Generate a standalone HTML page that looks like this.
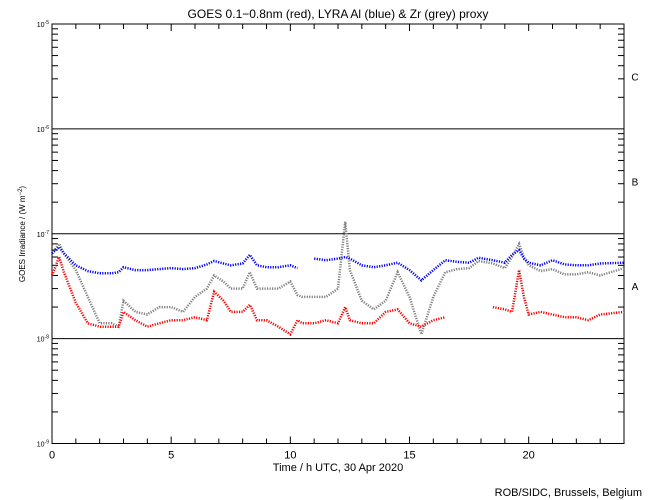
<!DOCTYPE html>
<html><head><meta charset="utf-8"><style>
body{margin:0;background:#fff}
svg{display:block;font-family:"Liberation Sans",sans-serif}
</style></head><body>
<svg id="chart" width="650" height="500" viewBox="0 0 650 500">
<rect width="650" height="500" fill="#fff"/>
<text x="338" y="18" font-size="12" text-anchor="middle">GOES 0.1−0.8nm (red), LYRA Al (blue) &amp; Zr (grey) proxy</text>
<text x="338" y="471" font-size="11" text-anchor="middle">Time / h UTC, 30 Apr 2020</text>
<text x="642" y="496" font-size="11" text-anchor="end">ROB/SIDC, Brussels, Belgium</text>
<text transform="translate(25,234) rotate(-90)" font-size="8" text-anchor="middle">GOES Irradiance / (W m<tspan baseline-shift="super" font-size="6">−2</tspan>)</text>
<g id="axes"></g>
<g id="series"></g>
</svg>
<script>
const hours=[0,0.3,0.5,1,1.5,2,2.5,2.8,3,3.5,4,4.5,5,5.5,6,6.5,6.8,7.2,7.5,8,8.3,8.6,9,9.5,10,10.3,10.5,11,11.5,12,12.3,12.5,13,13.5,14,14.5,15,15.5,16,16.5,17,17.5,17.9,18.5,19,19.3,19.6,19.8,20,20.5,21,21.5,22,22.5,23,24];
const blueAl=[6.5e-8,7.5e-8,6.5e-8,5e-8,4.4e-8,4.2e-8,4.2e-8,4.3e-8,4.8e-8,4.5e-8,4.5e-8,4.6e-8,4.7e-8,4.6e-8,4.7e-8,5.1e-8,5.5e-8,5.2e-8,5e-8,5.2e-8,6.3e-8,5e-8,4.8e-8,4.8e-8,5e-8,4.7e-8,null,5.8e-8,5.6e-8,5.8e-8,6e-8,5.8e-8,5e-8,4.8e-8,5e-8,5.3e-8,4.5e-8,3.6e-8,4.5e-8,5.6e-8,5.4e-8,5.3e-8,5.9e-8,5.6e-8,5.3e-8,6.3e-8,7e-8,5.8e-8,5.3e-8,5e-8,5.6e-8,5.1e-8,5e-8,5e-8,5.2e-8,5.3e-8];
const greyZr=[6.5e-8,8e-8,6.5e-8,4.5e-8,2.5e-8,1.4e-8,1.4e-8,1.3e-8,2.3e-8,1.8e-8,1.7e-8,2e-8,2e-8,1.8e-8,2.5e-8,3e-8,4e-8,3.5e-8,3e-8,3e-8,4.3e-8,3e-8,3e-8,3e-8,3.5e-8,2.6e-8,2.5e-8,2.5e-8,2.5e-8,3e-8,1.3e-7,4.5e-8,2.3e-8,1.9e-8,2.3e-8,4.3e-8,2.5e-8,1.1e-8,2.5e-8,4.3e-8,4.6e-8,4.7e-8,5.5e-8,5.2e-8,4.7e-8,6e-8,8e-8,6e-8,5e-8,4.4e-8,4.6e-8,4.1e-8,4.1e-8,4.3e-8,4e-8,4.7e-8];
const redGoes=[4e-8,6e-8,4.3e-8,2.2e-8,1.4e-8,1.3e-8,1.3e-8,1.3e-8,1.8e-8,1.5e-8,1.3e-8,1.4e-8,1.5e-8,1.5e-8,1.6e-8,1.5e-8,2.8e-8,2.3e-8,1.8e-8,1.8e-8,2.1e-8,1.5e-8,1.5e-8,1.3e-8,1.1e-8,1.5e-8,1.4e-8,1.4e-8,1.5e-8,1.4e-8,2e-8,1.5e-8,1.4e-8,1.4e-8,1.8e-8,1.9e-8,1.4e-8,1.3e-8,1.5e-8,1.6e-8,null,null,null,2e-8,1.9e-8,1.8e-8,4.5e-8,2.5e-8,1.7e-8,1.8e-8,1.7e-8,1.6e-8,1.6e-8,1.5e-8,1.7e-8,1.8e-8];
const xTickLabels=["0","5","10","15","20"];
const decadeExps=[-5,-6,-7,-8,-9];
const classLabels=["C","B","A"];

const X0=52,X1=624,Y0=24,Y1=443.5;
const xs=h=>X0+(X1-X0)*h/24;
const ys=v=>Y0+(-5-Math.log10(v))*(Y1-Y0)/4;
const NS="http://www.w3.org/2000/svg";
function mk(tag,attrs,parent){const e=document.createElementNS(NS,tag);for(const k in attrs)e.setAttribute(k,attrs[k]);parent.appendChild(e);return e;}
const ax=document.getElementById('axes');
const frame=mk('rect',{x:X0,y:Y0,width:X1-X0,height:Y1-Y0,fill:'none',stroke:'#000','stroke-width':1},ax);


decadeExps.forEach((e,i)=>{
  const y=ys(Math.pow(10,e));
  const l=mk('line',{x1:X0,x2:X1,y1:y,y2:y,stroke:'#000','stroke-width':1},ax);
  
  
  const t=mk('text',{x:X0-3,y:y+3,'font-size':7,'text-anchor':'end'},ax);
  
  
  t.innerHTML='10<tspan baseline-shift="super" font-size="5">'+e+'</tspan>';
  if(e>-9){for(let m=2;m<=9;m++){const yy=ys(m*Math.pow(10,e-1));
    mk('line',{x1:X0,x2:X0+6,y1:yy,y2:yy,stroke:'#000'},ax);
    mk('line',{x1:X1,x2:X1-6,y1:yy,y2:yy,stroke:'#000'},ax);}}
});
for(let h=0;h<=24;h++){const x=xs(h),L=h%5===0?7:5;
  mk('line',{x1:x,x2:x,y1:Y1,y2:Y1-L,stroke:'#000'},ax);
  mk('line',{x1:x,x2:x,y1:Y0,y2:Y0+L,stroke:'#000'},ax);}
xTickLabels.forEach(s=>{const t=mk('text',{x:xs(+s),y:Y1+15,'font-size':11,'text-anchor':'middle'},ax);t.textContent=s;
  
  });
classLabels.forEach((c,i)=>{const t=mk('text',{x:635,y:ys(Math.pow(10,-5.5-i))+4,'font-size':10,'text-anchor':'middle'},ax);t.textContent=c;
  
  });
const sg=document.getElementById('series');
function draw(vals,color,name){
  let segs=[],cur=[];
  vals.forEach((v,i)=>{if(v==null){if(cur.length)segs.push(cur);cur=[];}else cur.push(xs(hours[i]).toFixed(1)+','+ys(v).toFixed(1));});
  if(cur.length)segs.push(cur);
  segs.forEach(s=>{const p=mk('polyline',{points:s.join(' '),fill:'none',stroke:color,'stroke-width':2.5,'stroke-dasharray':'1.2 1.3'},sg);
    
    });
}
draw(greyZr,'#808080','zr-series');
draw(blueAl,'#0000ff','al-series');
draw(redGoes,'#ff0000','goes-series');
</script>
</body></html>
